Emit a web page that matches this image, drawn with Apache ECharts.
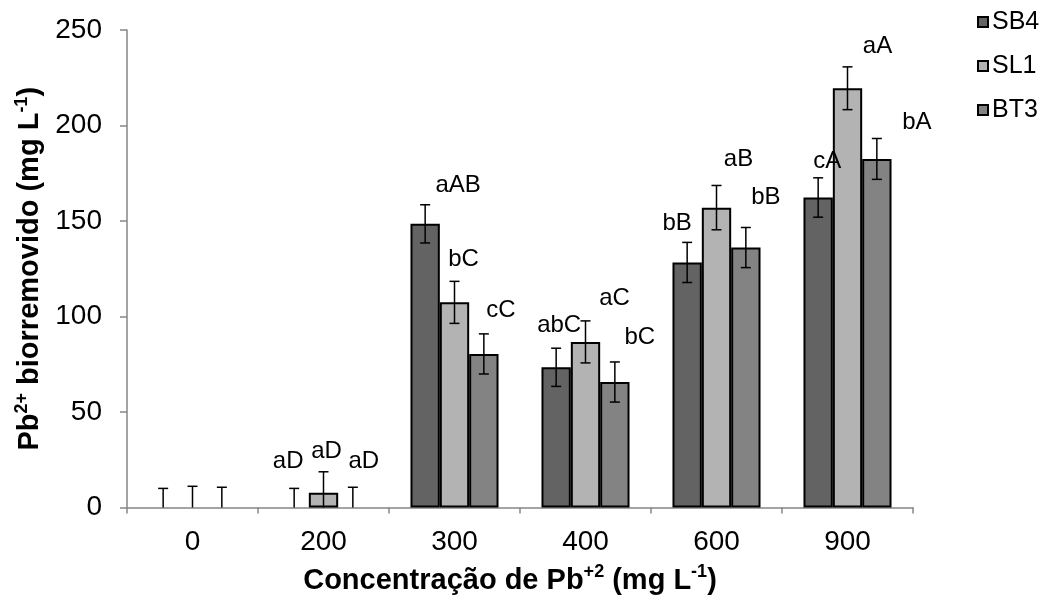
<!DOCTYPE html>
<html>
<head>
<meta charset="utf-8">
<script src="https://cdn.jsdelivr.net/npm/echarts@6/dist/echarts.min.js"></script>
<style>html,body{margin:0;padding:0;background:#fff;}#c{width:1040px;height:600px;}</style>
</head>
<body>
<div id="c"></div>
<script>
// ---- data ----
const categories = ['0', '200', '300', '400', '600', '900'];
const seriesNames = ['SB4', 'SL1', 'BT3'];
const sb4Values = [0, 0, 148.5, 73.4, 128.3, 162.3];
const sl1Values = [0, 7.7, 107.4, 86.7, 157.0, 219.5];
const bt3Values = [0, 0, 80.4, 65.7, 136.1, 182.5];
const sb4Errors = [10, 10, 10, 10, 10.5, 10.3];
const sl1Errors = [11.1, 11, 11, 11, 11.6, 11.2];
const bt3Errors = [10.6, 10.6, 10.5, 10.5, 10.5, 10.7];
const sb4Letters = ['', 'aD', 'aAB', 'abC', 'bB', 'cA'];
const sl1Letters = ['', 'aD', 'bC', 'aC', 'aB', 'aA'];
const bt3Letters = ['', 'aD', 'cC', 'bC', 'bB', 'bA'];
const yTicks = [0, 50, 100, 150, 200, 250];

// ---- style ----
const FONT = '"Liberation Sans", Arial, sans-serif';
const colors = ['#636363', '#b3b3b3', '#838383'];
const BAR_FRAC = 0.224;
// label nudges (px) relative to error-bar top, per series / category
const labelNudge = [
  [[0,0], [-6,-27], [33,-19], [3,-23], [-10,-19], [9,-16]],
  [[0,0], [3,-20], [9,-22], [29,-23], [22,-26], [30,-20]],
  [[0,0], [11,-26], [17,-24], [25,-25], [20,-30], [40,-16]]
];

const values = [sb4Values, sl1Values, bt3Values];
const errors = [sb4Errors, sl1Errors, bt3Errors];
const letters = [sb4Letters, sl1Letters, bt3Letters];

const series = [];
seriesNames.forEach((name, s) => {
  series.push({
    name: name,
    type: 'bar',
    barWidth: (BAR_FRAC * 100) + '%',
    barGap: '0%',
    itemStyle: { color: colors[s], borderColor: '#000', borderWidth: 2 },
    data: values[s].map(v => v === 0 ? { value: v, itemStyle: { borderWidth: 0 } } : v),
    z: 2
  });
});
seriesNames.forEach((name, s) => {
  series.push({
    type: 'custom',
    name: name + '_err',
    z: 5,
    clip: false,
    data: values[s].map((v, i) => [i, v, errors[s][i], letters[s][i]]),
    renderItem: function (params, api) {
      const i = api.value(0);
      const v = api.value(1);
      const e = api.value(2);
      const txt = letters[s][i];
      const top = api.coord([i, v + e]);
      const lowVal = Math.max(0, v - e);
      const bot = api.coord([i, lowVal]);
      const bandW = api.size([1, 0])[0];
      const barW = bandW * BAR_FRAC;
      const x = top[0] + (s - 1) * barW;
      const cap = 5;
      const ls = { stroke: '#000', lineWidth: 1.5 };
      const children = [
        { type: 'line', shape: { x1: x, y1: top[1], x2: x, y2: bot[1] }, style: ls },
        { type: 'line', shape: { x1: x - cap, y1: top[1], x2: x + cap, y2: top[1] }, style: ls }
      ];
      if (v - e > 0) {
        children.push({ type: 'line', shape: { x1: x - cap, y1: bot[1], x2: x + cap, y2: bot[1] }, style: ls });
      }
      if (txt) {
        const n = labelNudge[s][i];
        children.push({
          type: 'text',
          style: {
            x: x + n[0], y: top[1] + n[1], text: txt,
            fill: '#000', font: '24px ' + FONT,
            align: 'center', verticalAlign: 'middle'
          }
        });
      }
      return { type: 'group', children: children };
    }
  });
});

const titleRich = {
  b: { fontSize: 29, fontWeight: 'bold', color: '#000', fontFamily: FONT, lineHeight: 34 },
  sup: { fontSize: 18, fontWeight: 'bold', color: '#000', fontFamily: FONT, verticalAlign: 'top', lineHeight: 19 }
};

const chart = echarts.init(document.getElementById('c'), null, { renderer: 'canvas' });
chart.setOption({
  animation: false,
  backgroundColor: '#fff',
  textStyle: { fontFamily: FONT },
  grid: { left: 127, right: 127, top: 30, bottom: 92, containLabel: false },
  legend: {
    orient: 'vertical',
    left: 972,
    top: 2,
    itemWidth: 10,
    itemHeight: 10,
    itemGap: 14,
    data: seriesNames,
    textStyle: { fontSize: 25, lineHeight: 30, color: '#000', fontFamily: FONT, padding: [0, 0, 0, -1] },
    icon: 'rect'
  },
  xAxis: {
    type: 'category',
    data: categories,
    boundaryGap: true,
    axisLine: { show: true, lineStyle: { color: '#868686', width: 1.5 } },
    axisTick: { show: true, length: 6, interval: 0, lineStyle: { color: '#868686', width: 1.5 } },
    axisLabel: { fontSize: 28, color: '#000', margin: 21, fontFamily: FONT, interval: 0 },
    name: '{b|Concentração de Pb}{sup|+2}{b| (mg L}{sup|-1}{b|)}',
    nameLocation: 'middle',
    nameGap: 56,
    nameTextStyle: { padding: [0, 20, 0, 0], rich: titleRich }
  },
  yAxis: {
    type: 'value',
    min: 0,
    max: 250,
    interval: 50,
    axisLine: { show: true, lineStyle: { color: '#868686', width: 1.5 } },
    axisTick: { show: true, length: 7, lineStyle: { color: '#868686', width: 1.5 } },
    splitLine: { show: false },
    axisLabel: { fontSize: 28, color: '#000', margin: 25, fontFamily: FONT,
      formatter: v => yTicks.indexOf(v) >= 0 ? String(v) : '' },
    name: '{b|Pb}{sup|2+}{b| biorremovido (mg L}{sup|-1}{b|)}',
    nameLocation: 'middle',
    nameGap: 76,
    nameTextStyle: { rich: titleRich }
  },
  series: series
});
</script>
</body>
</html>
